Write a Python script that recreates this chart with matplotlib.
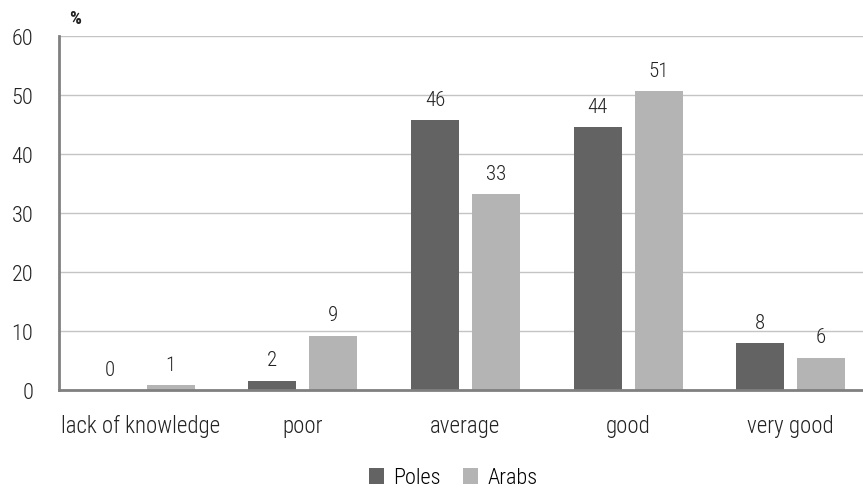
import matplotlib
matplotlib.use('Agg')
import matplotlib.pyplot as plt
from matplotlib import font_manager
import numpy as np

categories = ['lack of knowledge', 'poor', 'average', 'good', 'very good']
poles = [0.0, 1.6, 45.8, 44.6, 7.9]
arabs = [0.85, 9.2, 33.2, 50.7, 5.5]
poles_labels = ['0', '2', '46', '44', '8']
arabs_labels = ['1', '9', '33', '51', '6']

names = {f.name for f in font_manager.fontManager.ttflist}
for fam in ['Roboto Condensed', 'Liberation Sans Narrow', 'Roboto']:
    if fam in names:
        break
plt.rcParams['font.family'] = [fam, 'DejaVu Sans']
plt.rcParams['font.weight'] = 'light'

dark = '#636363'
light = '#b4b4b4'
txt = '#222222'

fig = plt.figure(figsize=(8.63, 4.89), dpi=100)
ax = fig.add_axes([59 / 863, 1 - 391 / 489, 1 - 59 / 863, 354 / 489])

x = np.arange(len(categories))
w = 0.295
off = 0.04 + w / 2
ax.bar(x - off, poles, w, color=dark, label='Poles', zorder=3)
ax.bar(x + off, arabs, w, color=light, label='Arabs', zorder=3)

# value labels above bars
for i in range(len(categories)):
    ax.annotate(poles_labels[i], (x[i] - off, poles[i]), xytext=(0, 11),
                textcoords='offset points', ha='center', va='baseline',
                fontsize=15, color=txt)
    ax.annotate(arabs_labels[i], (x[i] + off, arabs[i]), xytext=(0, 11),
                textcoords='offset points', ha='center', va='baseline',
                fontsize=15, color=txt)

ax.set_ylim(0, 60)
ax.set_xlim(-0.5, 4.445)
ax.set_yticks(range(0, 61, 10))
ax.set_xticks(x)
ax.set_xticklabels(categories)
ax.tick_params(axis='both', length=0, colors=txt)
ax.tick_params(axis='x', pad=17, labelsize=16.5)
ax.tick_params(axis='y', pad=18.5, labelsize=16)
ax.grid(axis='y', color='#c4c4c4', linewidth=1, zorder=0)
for s in ['top', 'right']:
    ax.spines[s].set_visible(False)
for s in ['left', 'bottom']:
    ax.spines[s].set_color('#808080')
    ax.spines[s].set_linewidth(2)
ax.spines['bottom'].set_zorder(4)

ax.text(0.012, 1.025, '%', transform=ax.transAxes, fontsize=13.5, fontweight='bold',
        ha='left', va='bottom', color=txt)

fig.legend(loc='center', bbox_to_anchor=(0.525, 1 - 479 / 489), ncol=2, frameon=False,
           fontsize=16, handlelength=0.7, handleheight=0.7, handletextpad=0.4,
           columnspacing=1.0)

fig.savefig('out.png', dpi=100)
